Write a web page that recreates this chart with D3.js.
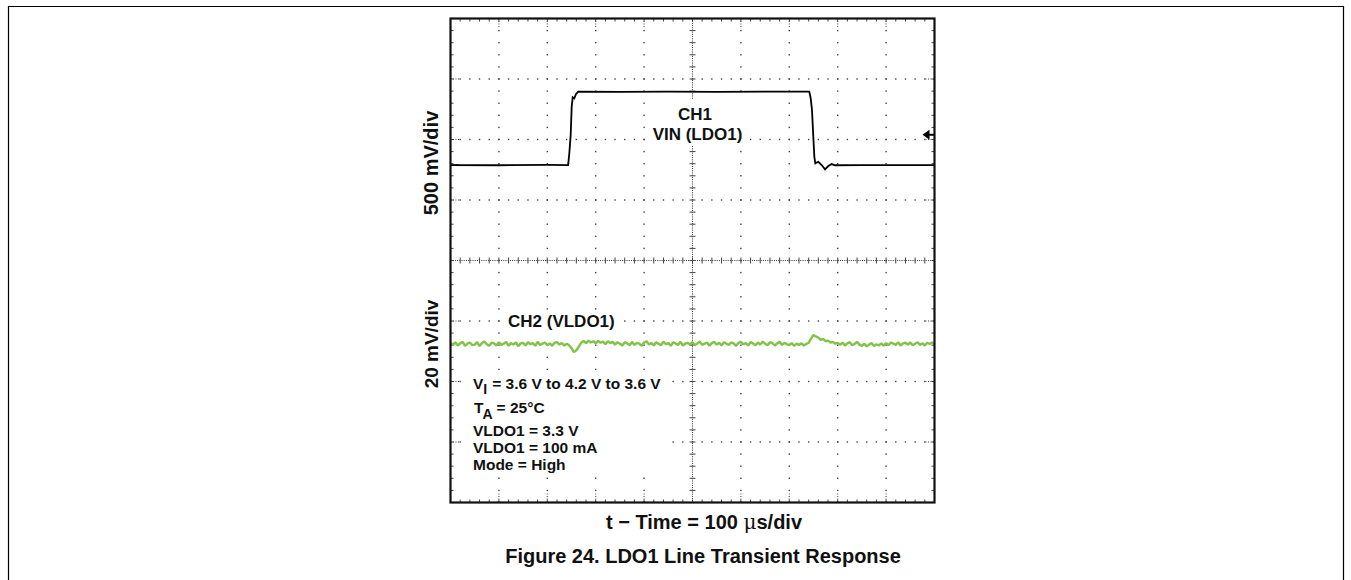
<html>
<head>
<script src="https://d3js.org/d3.v7.min.js"></script>
<style>
  body { margin: 0; background: #fff; }
  svg text { font-family: "Liberation Sans", Arial, sans-serif; font-weight: bold; fill: #111; }
</style>
</head>
<body>
<div id="chart"></div>
<script>
// time base: 100 us/div, 10 divisions
var timeTicks = [0, 100, 200, 300, 400, 500, 600, 700, 800, 900, 1000];

// CH1: VIN (LDO1), 500 mV/div
var ch1Time = [0, 100, 200, 243, 245.5, 248.3, 250.4, 252.5, 255.8, 259.3, 264, 350, 450, 550, 650,
               741.3, 744.2, 746.9, 749.6, 751.7, 753.7, 759.9, 766.9, 773.8, 780.6, 787.6, 794.4, 850, 1000];
var ch1Volt = [3.6, 3.598, 3.601, 3.6, 3.697, 3.848, 4.082, 4.16, 4.151, 4.187, 4.206, 4.205, 4.207, 4.205, 4.206,
               4.206, 4.151, 4.055, 3.834, 3.669, 3.614, 3.627, 3.6, 3.564, 3.592, 3.608, 3.598, 3.6, 3.6];
var ch1Trigger = 3.85;

// CH2: VLDO1 deviation from 3.3 V in mV, one sample every 5 us, 20 mV/div
var ch2Step = 5;
var ch2Dev = [
  0.4,-0.3,0.6,-0.5,0.2,0.7,-0.6,0.1,0.5,-0.4,
  -0.2,0.6,-0.7,0.3,0.8,-0.1,-0.6,0.4,0.2,-0.5,
  0.6,-0.3,0.1,0.7,-0.6,0.3,-0.2,0.5,-0.7,0.2,
  0.4,-0.5,0.6,-0.1,0.3,-0.6,0.7,-0.3,0.1,0.5,
  -0.4,0.2,-0.6,0.4,0.6,-0.2,0.3,-0.5,0.1,-0.4,
  -1.4,-2.7,-2.1,-0.9,0.4,1.0,0.3,1.1,0.5,0.9,
  0.2,1.0,0.4,0.8,-0.1,0.9,0.3,0.7,-0.2,0.6,
  0.1,-0.5,0.6,0.2,-0.4,0.7,-0.3,0.4,0.1,-0.6,
  0.5,0.9,-0.2,0.3,-0.5,0.6,0.1,-0.4,0.8,-0.1,
  0.3,-0.6,0.5,0.2,-0.3,0.7,-0.5,0.1,0.4,-0.2,
  0.6,-0.4,0.2,0.8,-0.3,0.1,0.5,-0.6,0.3,0.7,
  -0.2,0.4,-0.5,0.6,0.1,-0.3,0.5,0.2,-0.6,0.4,
  0.7,-0.1,0.3,-0.5,0.6,0.2,-0.4,0.5,-0.2,0.8,
  0.1,-0.4,0.6,0.3,-0.5,0.2,0.7,-0.3,0.4,-0.1,
  -0.4,0.3,-0.6,0.1,-0.3,0.2,-0.5,0.0,0.4,1.8,
  3.0,2.5,2.1,1.4,1.7,0.9,1.1,0.5,0.7,0.1,
  0.4,-0.3,0.5,-0.5,0.2,0.6,-0.4,0.1,0.7,-0.2,
  -0.6,0.1,-0.8,-0.2,0.3,-0.7,-0.1,-0.5,0.2,-0.6,
  0.3,-0.4,0.5,0.1,-0.3,0.6,-0.5,0.2,0.4,-0.2,
  0.5,-0.4,0.1,0.6,-0.3,0.2,-0.5,0.4,0.0,0.5,-0.2
];

var notes = ["= 3.6 V to 4.2 V to 3.6 V", "= 25\u00B0C", "VLDO1 = 3.3 V", "VLDO1 = 100 mA", "Mode = High"];

var width = 1351, height = 580;
var x0 = 450.5, x1 = 934.5, y0 = 18.5, y1 = 502.5;

var svg = d3.select("#chart").append("svg")
    .attr("width", width).attr("height", height);

// page frame
svg.append("path")
    .attr("d", "M8.5,580 V6.5 H1343.5 V580")
    .attr("fill", "none").attr("stroke", "#000").attr("stroke-width", 1.2);

var x = d3.scaleLinear().domain([0, 1000]).range([x0, x1]);
var yDiv = d3.scaleLinear().domain([-4, 4]).range([y1, y0]);
var yCh1 = d3.scaleLinear().domain([2.811 - 2, 2.811 + 2]).range([y1, y0]);
var yCh2 = d3.scaleLinear().domain([3327.6 - 80, 3327.6 + 80]).range([y1, y0]);

var grid = svg.append("g");
var gray = "#444";

// dotted major lines
var minorX = d3.range(1, 50).map(function(k) { return x(k * 20); });
var minorY = d3.range(1, 40).map(function(k) { return yDiv(-4 + k * 0.2); });

timeTicks.slice(1, -1).forEach(function(t) {
  if (t === 500) return;
  minorY.forEach(function(yy) {
    grid.append("rect").attr("x", x(t) - 0.7).attr("y", yy - 0.7)
      .attr("width", 1.4).attr("height", 1.4).attr("fill", gray);
  });
  [[y0, y0 + 9], [y1 - 9, y1]].forEach(function(s) {
    grid.append("line").attr("x1", x(t)).attr("x2", x(t)).attr("y1", s[0]).attr("y2", s[1])
      .attr("stroke", gray).attr("stroke-width", 1).attr("stroke-dasharray", "1,1.5");
  });
});
d3.range(-3, 4).forEach(function(d) {
  if (d === 0) return;
  minorX.forEach(function(xx) {
    grid.append("rect").attr("x", xx - 0.7).attr("y", yDiv(d) - 0.7)
      .attr("width", 1.4).attr("height", 1.4).attr("fill", gray);
  });
  // dense dots near edges
  [[x0, x0 + 9], [x1 - 9, x1]].forEach(function(s) {
    grid.append("line").attr("x1", s[0]).attr("x2", s[1]).attr("y1", yDiv(d)).attr("y2", yDiv(d))
      .attr("stroke", gray).attr("stroke-width", 1).attr("stroke-dasharray", "1,1.5");
  });
});

// center cross with minor ticks
grid.append("line").attr("x1", x0).attr("x2", x1).attr("y1", yDiv(0)).attr("y2", yDiv(0))
  .attr("stroke", "#333").attr("stroke-width", 1).attr("stroke-dasharray", "1,1.2");
grid.append("line").attr("x1", x(500)).attr("x2", x(500)).attr("y1", y0).attr("y2", y1)
  .attr("stroke", "#333").attr("stroke-width", 1).attr("stroke-dasharray", "1,1.2");
minorX.forEach(function(xx) {
  grid.append("line").attr("x1", xx).attr("x2", xx).attr("y1", yDiv(0) - 3).attr("y2", yDiv(0) + 3)
    .attr("stroke", "#444").attr("stroke-width", 1);
  grid.append("line").attr("x1", xx).attr("x2", xx).attr("y1", y0).attr("y2", y0 + 3)
    .attr("stroke", "#444").attr("stroke-width", 1);
  grid.append("line").attr("x1", xx).attr("x2", xx).attr("y1", y1 - 3).attr("y2", y1)
    .attr("stroke", "#444").attr("stroke-width", 1);
});
minorY.forEach(function(yy) {
  grid.append("line").attr("x1", x(500) - 3).attr("x2", x(500) + 3).attr("y1", yy).attr("y2", yy)
    .attr("stroke", "#444").attr("stroke-width", 1);
  grid.append("line").attr("x1", x0).attr("x2", x0 + 3).attr("y1", yy).attr("y2", yy)
    .attr("stroke", "#444").attr("stroke-width", 1);
  grid.append("line").attr("x1", x1 - 3).attr("x2", x1).attr("y1", yy).attr("y2", yy)
    .attr("stroke", "#444").attr("stroke-width", 1);
});

// white boxes behind labels
[[645, 100, 105, 45], [503, 310, 118, 24], [462, 372, 206, 105]].forEach(function(b) {
  svg.append("rect").attr("x", b[0]).attr("y", b[1]).attr("width", b[2]).attr("height", b[3])
    .attr("fill", "#fff");
});

// traces
var ch2Data = ch2Dev.map(function(v, i) { return [i * ch2Step, 3300 + v]; });
svg.append("path")
  .datum(ch2Data)
  .attr("d", d3.line().x(function(d) { return x(d[0]); }).y(function(d) { return yCh2(d[1]); }))
  .attr("fill", "none").attr("stroke", "#7fc446").attr("stroke-width", 2.4)
  .attr("stroke-linejoin", "bevel");

var ch1Data = ch1Time.map(function(t, i) { return [t, ch1Volt[i]]; });
svg.append("path")
  .datum(ch1Data)
  .attr("d", d3.line().x(function(d) { return x(d[0]); }).y(function(d) { return yCh1(d[1]); }))
  .attr("fill", "none").attr("stroke", "#000").attr("stroke-width", 1.8);

// channel 1 level marker at left edge
svg.append("line").attr("x1", x0).attr("x2", x0 + 8).attr("y1", yCh1(3.6)).attr("y2", yCh1(3.6))
  .attr("stroke", "#000").attr("stroke-width", 1.2);

// trigger arrow
var ty = yCh1(ch1Trigger);
svg.append("path")
  .attr("d", "M" + (x1 - 12) + "," + ty + " L" + (x1 - 5) + "," + (ty - 5) + " L" + (x1 - 5) + "," + (ty + 5) + " Z")
  .attr("fill", "#000");
svg.append("line").attr("x1", x1 - 6).attr("x2", x1).attr("y1", ty).attr("y2", ty)
  .attr("stroke", "#000").attr("stroke-width", 2);

// plot border
svg.append("rect").attr("x", x0).attr("y", y0).attr("width", x1 - x0).attr("height", y1 - y0)
  .attr("fill", "none").attr("stroke", "#111").attr("stroke-width", 2.2);

// labels
svg.append("text").attr("x", 695).attr("y", 120).attr("text-anchor", "middle")
  .style("font-size", "17px").text("CH1");
svg.append("text").attr("x", 697.5).attr("y", 140).attr("text-anchor", "middle")
  .style("font-size", "17px").text("VIN (LDO1)");
svg.append("text").attr("x", 508).attr("y", 327)
  .style("font-size", "17px").text("CH2 (VLDO1)");

var n1 = svg.append("text").attr("x", 473).attr("y", 389).style("font-size", "15.5px");
n1.append("tspan").text("V");
n1.append("tspan").attr("dy", 5).style("font-size", "14px").text("I");
n1.append("tspan").attr("dy", -5).attr("dx", 5).text(notes[0]);

var n2 = svg.append("text").attr("x", 474).attr("y", 413).style("font-size", "15.5px");
n2.append("tspan").text("T");
n2.append("tspan").attr("dy", 6).attr("dx", -1).style("font-size", "14px").text("A");
n2.append("tspan").attr("dy", -6).attr("dx", 4).text(notes[1]);

[notes[2], notes[3], notes[4]].forEach(function(s, i) {
  svg.append("text").attr("x", 473).attr("y", [436, 453, 470][i]).style("font-size", "15.5px").text(s);
});

svg.append("text").attr("transform", "translate(438,163) rotate(-90)").attr("text-anchor", "middle")
  .style("font-size", "20px").text("500 mV/div");
svg.append("text").attr("transform", "translate(438,344) rotate(-90)").attr("text-anchor", "middle")
  .style("font-size", "19px").text("20 mV/div");

var xl = svg.append("text").attr("x", 704).attr("y", 529).attr("text-anchor", "middle")
  .style("font-size", "20px");
xl.append("tspan").text("t \u2212 Time = 100 ");
xl.append("tspan").style("font-weight", "normal").style("font-family", "'DejaVu Serif', serif").text("\u03BC");
xl.append("tspan").text("s/div");

svg.append("text").attr("x", 703).attr("y", 563).attr("text-anchor", "middle")
  .style("font-size", "20px").text("Figure 24. LDO1 Line Transient Response");
</script>
</body>
</html>
